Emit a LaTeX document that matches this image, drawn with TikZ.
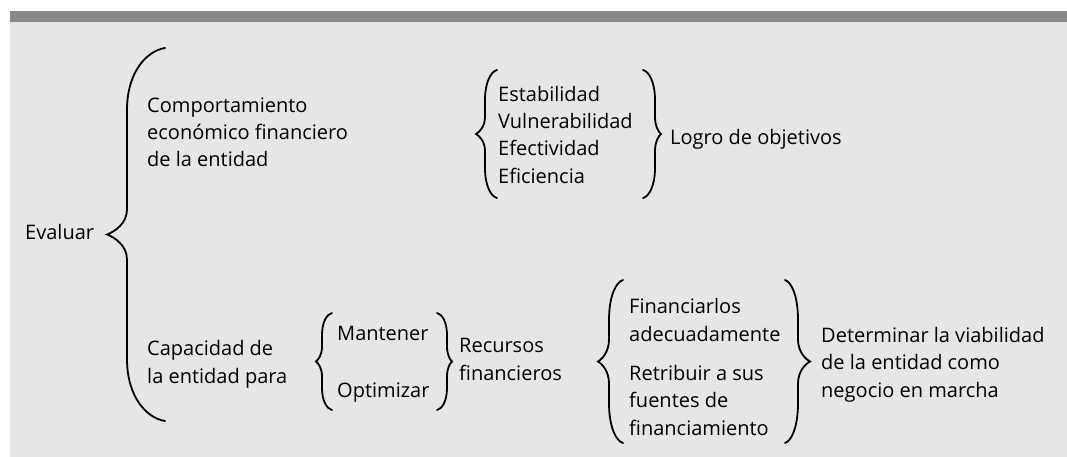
\documentclass[tikz,border=0pt]{standalone}
\usepackage{fontspec}
\setmainfont{Open Sans}
\usetikzlibrary{positioning}
\definecolor{barra}{HTML}{898989}
\definecolor{fondo}{HTML}{E6E6E6}
% llave: x extremo, x linea, x punta, y arriba, y abajo, gancho, medio
\newcommand{\llave}[7]{%
  \pgfmathsetmacro{\ym}{(#4+#5)/2}
  \draw[llavestyle] (#1,#4) .. controls ({#2+0.5*(#1-#2)},{#4+0.05*#6}) and (#2,{#4+0.4*#6}) .. (#2,{#4+#6})
    -- (#2,{\ym-#7}) .. controls (#2,{\ym-0.45*#7}) and ({#3+0.4*(#2-#3)},{\ym-0.12*#7}) .. (#3,\ym)
    .. controls ({#3+0.4*(#2-#3)},{\ym+0.12*#7}) and (#2,{\ym+0.45*#7}) .. (#2,{\ym+#7})
    -- (#2,{#5-#6}) .. controls (#2,{#5-0.4*#6}) and ({#2+0.5*(#1-#2)},{#5-0.05*#6}) .. (#1,#5);
}
\begin{document}
\begin{tikzpicture}[x=1pt, y=-1pt,
    llavestyle/.style={line width=1.8pt, line cap=round},
    texto/.style={anchor=base west, inner sep=0pt, align=left, font=\fontsize{20}{27.2}\selectfont}]
    % fondo
    \useasboundingbox (0,0) rectangle (1067,457);
    \fill[white] (0,0) rectangle (1067,457);
    \fill[fondo] (10,22) rectangle (1067,457);
    \fill[barra] (10,11) rectangle (1067,22);

    % textos (base = ultima linea)
    \node[texto] (evaluar) at (25,239) {Evaluar};
    \node[texto] (comp) at (147,167) {Comportamiento\\econ\'omico financiero\\de la entidad};
    \node[texto] (indic) at (498,183) {Estabilidad\\Vulnerabilidad\\Efectividad\\Eficiencia};
    \node[texto] (logro) at (670,145) {Logro de objetivos};
    \node[texto] (capac) at (147,383) {Capacidad de\\la entidad para};
    \node[texto] (mant) at (337,340) {Mantener};
    \node[texto] (optim) at (337,397) {Optimizar};
    \node[texto] (recur) at (459,380) {Recursos\\financieros};
    \node[texto] (finan) at (629,341) {Financiarlos\\adecuadamente};
    \node[texto] (retri) at (629,435) {Retribuir a sus\\fuentes de\\financiamiento};
    \node[texto] (viab) at (821,397) {Determinar la viabilidad\\de la entidad como\\negocio en marcha};

    % llaves
    \llave{165}{127}{107}{48}{421}{62}{25}
    \llave{497}{485}{476}{70}{198}{30}{17}
    \llave{643}{655}{661}{70}{198}{30}{17}
    \llave{332}{322}{316}{313}{410}{22}{15}
    \llave{437}{447}{452}{313}{410}{22}{15}
    \llave{623}{609}{598}{280}{443}{40}{22}
    \llave{785}{798}{810}{280}{443}{40}{22}
\end{tikzpicture}
\end{document}
